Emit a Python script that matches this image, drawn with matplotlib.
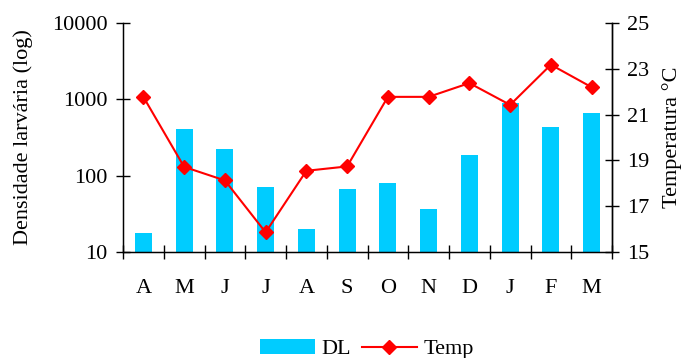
import matplotlib
matplotlib.use("Agg")
import matplotlib.pyplot as plt
import numpy as np
from matplotlib.ticker import FixedLocator, FixedFormatter, NullLocator

plt.rcParams['font.family'] = ['Liberation Serif', 'DejaVu Serif']

months = ["A", "M", "J", "J", "A", "S", "O", "N", "D", "J", "F", "M"]
dl = [18, 407, 223, 71, 20, 67, 80, 37, 186, 881, 432, 659]
temp = [21.77, 18.72, 18.13, 15.87, 18.55, 18.74, 21.77, 21.77, 22.37, 21.42, 23.17, 22.19]
left_ticks = [10, 100, 1000, 10000]
right_ticks = [15, 17, 19, 21, 23, 25]

bar_color = "#00CCFF"
line_color = "#FF0000"

fig = plt.figure(figsize=(6.87, 3.58), dpi=100)
ax = fig.add_axes([123/687, 1 - 252.3/358, (612 - 123)/687, (252.3 - 22.7)/358])
x = np.arange(len(months))

bars = ax.bar(x, dl, width=0.42, color=bar_color, zorder=2, label="DL")
ax.set_yscale("log")
ax.set_ylim(10, 10000)
ax.set_xlim(-0.5, len(months) - 0.5)
ax.yaxis.set_major_locator(FixedLocator(left_ticks))
ax.yaxis.set_major_formatter(FixedFormatter([str(v) for v in left_ticks]))
ax.yaxis.set_minor_locator(NullLocator())
ax.set_xticks(x)
ax.set_xticklabels(months)
ax.set_xticks(np.arange(len(months) + 1) - 0.5, minor=True)
ax.tick_params(axis="x", which="major", length=0, pad=19, labelsize=16)
ax.tick_params(axis="x", which="minor", length=10, direction="inout", width=1)
ax.tick_params(axis="y", which="major", length=10, direction="inout", width=1, labelsize=16, pad=6)
ax.set_ylabel("Densidade larvária (log)", fontsize=16, labelpad=14)
ax.spines["top"].set_visible(False)
for s in ["left", "bottom", "right"]:
    ax.spines[s].set_linewidth(1)

ax2 = ax.twinx()
line, = ax2.plot(x, temp, color=line_color, marker="D", markersize=7, linewidth=1.5,
                 zorder=3, label="Temp")
ax2.set_ylim(15, 25)
ax2.set_yticks(right_ticks)
ax2.tick_params(axis="y", length=10, direction="inout", width=1, labelsize=16, pad=6)
ax2.set_ylabel("Temperatura °C", fontsize=16, labelpad=9)
ax2.spines["top"].set_visible(False)
ax2.spines["right"].set_linewidth(1)

fig.legend([bars, line], ["DL", "Temp"], loc="center", bbox_to_anchor=(367/687, 1 - 349/358),
           ncol=2, frameon=False, fontsize=16, handlelength=2.45, handletextpad=0.3,
           columnspacing=0.5, borderpad=0, handleheight=0.65)

fig.savefig("out.png", dpi=100)
